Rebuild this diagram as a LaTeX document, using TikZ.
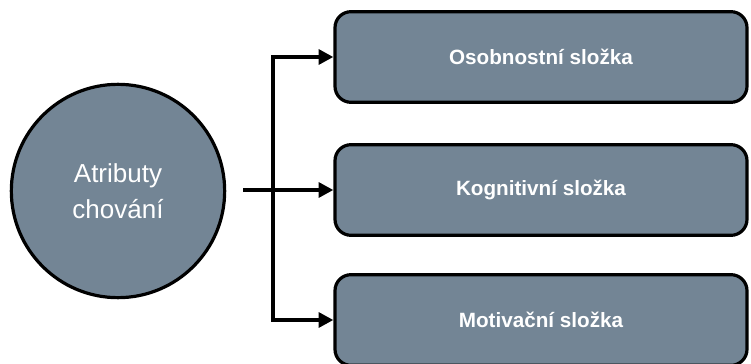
\documentclass[tikz,border=0pt]{standalone}
\usepackage{fontspec}
\setmainfont{Liberation Sans}
\usetikzlibrary{arrows.meta,positioning}
\definecolor{boxcolor}{RGB}{115,133,149}

\begin{document}
\begin{tikzpicture}[
    x=0.75pt, y=-0.75pt,
    attr/.style={circle, draw=black, line width=2.4pt, fill=boxcolor, minimum size=160pt, inner sep=0pt, align=center, text=white, font=\fontsize{19.5}{27}\selectfont},
    part/.style={rectangle, rounded corners=12pt, draw=black, line width=2.4pt, fill=boxcolor, minimum width=309pt, minimum height=68pt, text=white, font=\fontsize{15.5}{18}\selectfont\bfseries},
    arrow/.style={-{Triangle[length=11pt,width=11pt]}, line width=3.2pt, black}
]
\useasboundingbox (0,0) rectangle (751,364);

% Attribute
\node[attr] (atr) at (118,191) {Atributy\\chování};

% Parts
\node[part] (oso) at (541,57) {Osobnostní složka};
\node[part] (kog) at (541,190) {Kognitivní složka};
\node[part] (mot) at (541,320) {Motivační složka};

% Branch points
\coordinate (start) at (243,190);
\coordinate (fork) at (273,190);

% Edges
\draw[arrow] (start) -- (kog.west);
\draw[arrow] (fork) |- (oso.west);
\draw[arrow] (fork) |- (mot.west);

\end{tikzpicture}
\end{document}
